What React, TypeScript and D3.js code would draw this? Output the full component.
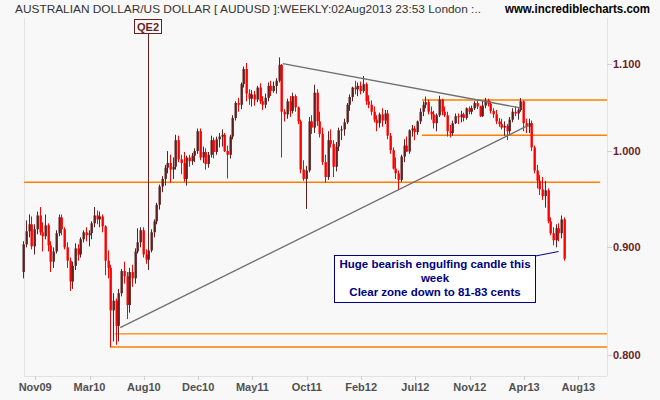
import React from "react";
import * as d3 from "d3";

const W = 660;
const H = 400;

// week index of the first candle (index 0 = week of 2 Nov 2009)
const firstIndex = -4;

const opens = [
  0.876, 0.903, 0.916, 0.923, 0.901, 0.918, 0.932, 0.915, 0.911, 0.922,
  0.902, 0.886, 0.896, 0.914, 0.930, 0.918, 0.900, 0.887, 0.867, 0.882,
  0.899, 0.893, 0.908, 0.915, 0.912, 0.914, 0.924, 0.932, 0.928, 0.931,
  0.921, 0.887, 0.880, 0.840, 0.849, 0.826, 0.856, 0.877, 0.872, 0.845,
  0.876, 0.870, 0.896, 0.905, 0.917, 0.893, 0.888, 0.897, 0.915, 0.926,
  0.943, 0.962, 0.970, 0.982, 0.987, 0.980, 0.983, 1.012, 0.991, 0.987,
  0.970, 0.993, 0.989, 0.995, 1.000, 1.022, 0.993, 0.999, 0.986, 0.996,
  1.012, 0.999, 1.013, 1.016, 1.018, 1.000, 0.996, 1.016, 1.037, 1.054,
  1.052, 1.076, 1.094, 1.065, 1.059, 1.064, 1.058, 1.072, 1.056, 1.052,
  1.060, 1.074, 1.068, 1.074, 1.080, 1.099, 1.044, 1.041, 1.056, 1.045,
  1.062, 1.049, 1.033, 0.980, 0.970, 0.979, 1.033, 1.026, 1.066, 1.033,
  1.019, 0.988, 0.972, 1.012, 1.008, 0.983, 1.005, 1.023, 1.024, 1.032,
  1.052, 1.061, 1.072, 1.070, 1.074, 1.068, 1.076, 1.056, 1.052, 1.044,
  1.035, 1.031, 1.041, 1.034, 1.042, 1.017, 1.001, 0.981, 0.976, 0.969,
  0.994, 1.006, 0.9995, 1.023, 1.025, 1.021, 1.033, 1.044, 1.052, 1.055,
  1.044, 1.041, 1.031, 1.040, 1.058, 1.044, 1.040, 1.022, 1.020, 1.031,
  1.039, 1.038, 1.041, 1.037, 1.048, 1.044, 1.048, 1.054, 1.050, 1.039,
  1.051, 1.057, 1.053, 1.045, 1.041, 1.033, 1.030, 1.026, 1.028, 1.022,
  1.035, 1.044, 1.042, 1.046, 1.056, 1.031, 1.027, 1.031, 1.004, 0.979,
  0.968, 0.959, 0.952, 0.958, 0.926, 0.914, 0.907, 0.919, 0.914, 0.928,
];

const highs = [
  0.906, 0.927, 0.933, 0.931, 0.923, 0.936, 0.9406, 0.925, 0.933, 0.924,
  0.906, 0.900, 0.917, 0.933, 0.933, 0.920, 0.905, 0.890, 0.886, 0.904,
  0.903, 0.910, 0.917, 0.920, 0.917, 0.926, 0.9406, 0.937, 0.936, 0.933,
  0.922, 0.897, 0.883, 0.856, 0.851, 0.860, 0.879, 0.886, 0.876, 0.880,
  0.883, 0.899, 0.919, 0.920, 0.920, 0.898, 0.899, 0.918, 0.928, 0.945,
  0.964, 0.973, 0.985, 1.000, 0.996, 0.993, 1.018, 1.017, 0.996, 0.999,
  0.995, 0.996, 0.998, 1.003, 1.025, 1.025, 1.005, 1.003, 0.999, 1.017,
  1.015, 1.016, 1.020, 1.024, 1.020, 1.006, 1.018, 1.040, 1.056, 1.060,
  1.078, 1.097, 1.1012, 1.070, 1.069, 1.068, 1.074, 1.077, 1.062, 1.065,
  1.078, 1.080, 1.079, 1.083, 1.108, 1.100, 1.047, 1.059, 1.062, 1.066,
  1.064, 1.050, 1.035, 0.990, 0.984, 1.038, 1.040, 1.0752, 1.070, 1.044,
  1.026, 0.996, 1.022, 1.024, 1.012, 1.010, 1.026, 1.028, 1.036, 1.054,
  1.064, 1.073, 1.080, 1.078, 1.079, 1.0856, 1.078, 1.063, 1.057, 1.050,
  1.040, 1.043, 1.048, 1.046, 1.046, 1.020, 1.004, 0.993, 0.979, 0.996,
  1.013, 1.016, 1.024, 1.029, 1.028, 1.034, 1.048, 1.056, 1.0615, 1.058,
  1.050, 1.045, 1.042, 1.0624, 1.059, 1.050, 1.044, 1.029, 1.034, 1.042,
  1.042, 1.045, 1.043, 1.049, 1.050, 1.051, 1.056, 1.057, 1.051, 1.056,
  1.060, 1.059, 1.056, 1.048, 1.046, 1.037, 1.036, 1.033, 1.030, 1.038,
  1.048, 1.050, 1.048, 1.0597, 1.057, 1.036, 1.036, 1.034, 1.006, 0.985,
  0.974, 0.972, 0.968, 0.960, 0.930, 0.920, 0.923, 0.924, 0.932, 0.930,
];

const lows = [
  0.870, 0.900, 0.910, 0.898, 0.893, 0.913, 0.912, 0.896, 0.908, 0.896,
  0.876, 0.880, 0.894, 0.911, 0.912, 0.898, 0.880, 0.858, 0.860, 0.878,
  0.887, 0.890, 0.905, 0.906, 0.901, 0.908, 0.920, 0.923, 0.920, 0.915,
  0.873, 0.870, 0.807, 0.812, 0.809, 0.812, 0.853, 0.865, 0.832, 0.838,
  0.862, 0.865, 0.894, 0.900, 0.890, 0.884, 0.878, 0.895, 0.910, 0.923,
  0.938, 0.956, 0.963, 0.976, 0.966, 0.970, 0.980, 0.988, 0.975, 0.967,
  0.963, 0.983, 0.985, 0.988, 0.997, 0.990, 0.987, 0.980, 0.982, 0.993,
  0.992, 0.996, 1.004, 1.005, 0.999, 0.9705, 0.992, 1.013, 1.034, 1.044,
  1.047, 1.072, 1.056, 1.052, 1.050, 1.051, 1.055, 1.053, 1.046, 1.048,
  1.056, 1.062, 1.066, 1.065, 1.078, 0.993, 1.033, 1.036, 1.038, 1.042,
  1.044, 1.030, 0.976, 0.968, 0.9387, 0.977, 1.019, 1.020, 1.028, 1.015,
  0.985, 0.966, 0.969, 1.004, 0.972, 0.978, 1.000, 1.012, 1.017, 1.030,
  1.045, 1.056, 1.064, 1.062, 1.064, 1.066, 1.052, 1.048, 1.040, 1.032,
  1.022, 1.026, 1.027, 1.030, 1.013, 0.997, 0.980, 0.970, 0.9581, 0.967,
  0.988, 0.999, 0.997, 1.016, 1.012, 1.018, 1.030, 1.039, 1.048, 1.041,
  1.035, 1.025, 1.022, 1.038, 1.040, 1.038, 1.016, 1.015, 1.017, 1.030,
  1.030, 1.032, 1.033, 1.035, 1.041, 1.041, 1.046, 1.047, 1.038, 1.038,
  1.048, 1.050, 1.042, 1.037, 1.030, 1.027, 1.024, 1.017, 1.012, 1.019,
  1.032, 1.039, 1.035, 1.044, 1.022, 1.020, 1.020, 1.000, 0.976, 0.960,
  0.953, 0.948, 0.940, 0.924, 0.912, 0.902, 0.900, 0.906, 0.909, 0.887,
];

const closes = [
  0.903, 0.916, 0.923, 0.901, 0.918, 0.932, 0.915, 0.911, 0.922, 0.902,
  0.886, 0.896, 0.914, 0.930, 0.918, 0.900, 0.887, 0.867, 0.882, 0.899,
  0.893, 0.908, 0.915, 0.912, 0.914, 0.924, 0.932, 0.928, 0.931, 0.921,
  0.887, 0.880, 0.840, 0.849, 0.826, 0.856, 0.877, 0.872, 0.845, 0.876,
  0.870, 0.896, 0.905, 0.917, 0.893, 0.888, 0.897, 0.915, 0.926, 0.943,
  0.962, 0.970, 0.982, 0.987, 0.980, 0.983, 1.012, 0.991, 0.987, 0.970,
  0.993, 0.989, 0.995, 1.000, 1.022, 0.993, 0.999, 0.986, 0.996, 1.012,
  0.999, 1.013, 1.016, 1.018, 1.000, 0.996, 1.016, 1.037, 1.054, 1.052,
  1.076, 1.094, 1.065, 1.059, 1.064, 1.058, 1.072, 1.056, 1.052, 1.060,
  1.074, 1.068, 1.074, 1.080, 1.099, 1.044, 1.041, 1.056, 1.045, 1.062,
  1.049, 1.033, 0.980, 0.970, 0.979, 1.033, 1.026, 1.066, 1.033, 1.019,
  0.988, 0.972, 1.012, 1.008, 0.983, 1.005, 1.023, 1.024, 1.032, 1.052,
  1.061, 1.072, 1.070, 1.074, 1.068, 1.076, 1.056, 1.052, 1.044, 1.035,
  1.031, 1.041, 1.034, 1.042, 1.017, 1.001, 0.981, 0.976, 0.969, 0.994,
  1.006, 0.9995, 1.023, 1.025, 1.021, 1.033, 1.044, 1.052, 1.055, 1.044,
  1.041, 1.031, 1.040, 1.058, 1.044, 1.040, 1.022, 1.020, 1.031, 1.039,
  1.038, 1.041, 1.037, 1.048, 1.044, 1.048, 1.054, 1.050, 1.039, 1.051,
  1.057, 1.053, 1.045, 1.041, 1.033, 1.030, 1.026, 1.028, 1.022, 1.035,
  1.044, 1.042, 1.046, 1.056, 1.031, 1.027, 1.031, 1.004, 0.979, 0.968,
  0.959, 0.952, 0.958, 0.926, 0.914, 0.907, 0.919, 0.914, 0.928, 0.889,
];

const tickIndices = [0, 20, 40, 60, 80, 100, 120, 140, 160, 180, 200];
const tickLabels = ["Nov09", "Mar10", "Aug10", "Dec10", "May11", "Oct11", "Feb12", "Jul12", "Nov12", "Apr13", "Aug13"];
const priceTicks = [0.8, 0.9, 1.0, 1.1];

// horizontal support / resistance lines
const levelPrices = [1.0575, 1.0175, 0.9665, 0.8187, 0.807];
const levelStarts = [142.4, 142.4, -4.1, 29.3, 27.5];
const levelEnds = [210.5, 210.5, 208.0, 210.5, 210.5];

// triangle trend lines: [week index, price]
const trendUpper = [[91.2, 1.1005], [178.6, 1.0484]];
const trendLower = [[31.3, 0.8243], [181.3, 1.0282]];

const qe2Index = 41.6;
const qe2Price = 0.889;

const noteLines = ["Huge bearish engulfing candle this", "week", "Clear zone down to 81-83 cents"];

const title = "AUSTRALIAN DOLLAR/US DOLLAR [ AUDUSD ]:WEEKLY:02Aug2013 23:53 London :..";
const site = "www.incrediblecharts.com";

const UP = "#5e2020";
const DOWN = "#ff0000";
const ORANGE = "#ff8000";
const NAVY = "#000080";

export default function App() {
  const left = 24;
  const right = 607;
  const top = 18;
  const bottom = 376;

  const x = d3.scaleLinear().domain([0, 200]).range([35.2, 578.4]);
  const y = d3.scaleLog().domain([0.8, 1.1]).range([355, 64]);
  const fmt = d3.format(".3f");

  const candles = closes.map((c, k) => {
    const i = firstIndex + k;
    const o = opens[k];
    const hi = highs[k];
    const lo = lows[k];
    const up = c >= o;
    const col = up ? UP : DOWN;
    const cx = Math.round(x(i));
    const yo = y(o);
    const yc = y(c);
    const yt = Math.min(yo, yc);
    const hgt = Math.max(1, Math.abs(yo - yc));
    return (
      <g key={k}>
        <line x1={cx - 0.5} x2={cx - 0.5} y1={y(hi)} y2={y(lo)} stroke={col} strokeWidth={1} />
        <rect x={cx - 1.5} y={yt} width={2.4} height={hgt} fill={col} />
      </g>
    );
  });

  const trendLine = (pts: number[][]) => (
    <line
      x1={x(pts[0][0])}
      y1={y(pts[0][1])}
      x2={x(pts[1][0])}
      y2={y(pts[1][1])}
      stroke="#6e6e6e"
      strokeWidth={1.3}
    />
  );

  const qx = Math.round(x(qe2Index)) + 0.5;

  return (
    <div style={{ position: "fixed", left: 0, top: 0, width: W, height: H }}>
      <svg width={W} height={H} style={{ display: "block" }}>
        <rect x={0} y={0} width={W} height={H} fill="#f8f8f8" />

        {/* frame */}
        <line x1={left + 0.5} x2={left + 0.5} y1={top} y2={bottom} stroke="#e2e2e2" />
        <line x1={right + 0.5} x2={right + 0.5} y1={top} y2={bottom} stroke="#e2e2e2" />
        <line x1={left} x2={right} y1={bottom + 0.5} y2={bottom + 0.5} stroke="#e2e2e2" />

        {/* title */}
        <text
          x={15}
          y={13}
          fontFamily="'Liberation Sans Narrow', 'Arial Narrow', 'Liberation Sans', Arial, sans-serif"
          fontSize={11.5}
          fill="#333"
          textLength={466}
          lengthAdjust="spacingAndGlyphs"
        >
          {title}
        </text>
        <text
          x={505}
          y={13}
          fontFamily="'Liberation Sans', Arial, sans-serif"
          fontSize={12}
          fontWeight="bold"
          fill="#000"
          textLength={145}
          lengthAdjust="spacingAndGlyphs"
        >
          {site}
        </text>

        {/* y axis */}
        {priceTicks.map((p) => (
          <g key={p}>
            <line x1={right} x2={right + 5} y1={Math.round(y(p)) + 0.5} y2={Math.round(y(p)) + 0.5} stroke="#cfcfcf" />
            <text
              x={613}
              y={y(p) + 4}
              fontFamily="'Liberation Sans', Arial, sans-serif"
              fontSize={11}
              fontWeight="bold"
              fill="#6b1f1f"
            >
              {fmt(p)}
            </text>
          </g>
        ))}

        {/* x axis */}
        {tickIndices.map((t, k) => (
          <g key={t}>
            <line x1={Math.round(x(t)) + 0.5} x2={Math.round(x(t)) + 0.5} y1={bottom} y2={bottom + 4} stroke="#cfcfcf" />
            <text
              x={x(t)}
              y={391}
              textAnchor="middle"
              fontFamily="'Liberation Sans', Arial, sans-serif"
              fontSize={11}
              fontWeight="bold"
              fill="#505050"
            >
              {tickLabels[k]}
            </text>
          </g>
        ))}

        {/* horizontal levels */}
        {levelPrices.map((p, k) => (
          <line
            key={p}
            x1={x(levelStarts[k])}
            x2={x(levelEnds[k])}
            y1={y(p)}
            y2={y(p)}
            stroke={ORANGE}
            strokeWidth={1.4}
          />
        ))}

        {/* QE2 marker */}
        <line x1={qx} x2={qx} y1={33.5} y2={y(qe2Price)} stroke="#5e2020" strokeWidth={1} />
        <rect x={134.5} y={19.5} width={27} height={14} fill="#f8f8f8" stroke="#6b1f1f" strokeWidth={1} />
        <text
          x={148}
          y={30.5}
          textAnchor="middle"
          fontFamily="'Liberation Sans', Arial, sans-serif"
          fontSize={11}
          fontWeight="bold"
          fill="#6b1f1f"
        >
          QE2
        </text>

        {/* candles */}
        {candles}

        {/* trend lines */}
        {trendLine(trendUpper)}
        {trendLine(trendLower)}

        {/* annotation */}
        <line x1={535.5} y1={256} x2={558.5} y2={251.5} stroke={NAVY} strokeWidth={1} />
        <rect x={334.5} y={255.5} width={201} height={47} fill="#ffffff" stroke={NAVY} strokeWidth={1} />
        {noteLines.map((s, k) => (
          <text
            key={k}
            x={435}
            y={268 + k * 14}
            textAnchor="middle"
            fontFamily="'Liberation Sans', Arial, sans-serif"
            fontSize={11.5}
            fontWeight="bold"
            fill={NAVY}
          >
            {s}
          </text>
        ))}
      </svg>
    </div>
  );
}
